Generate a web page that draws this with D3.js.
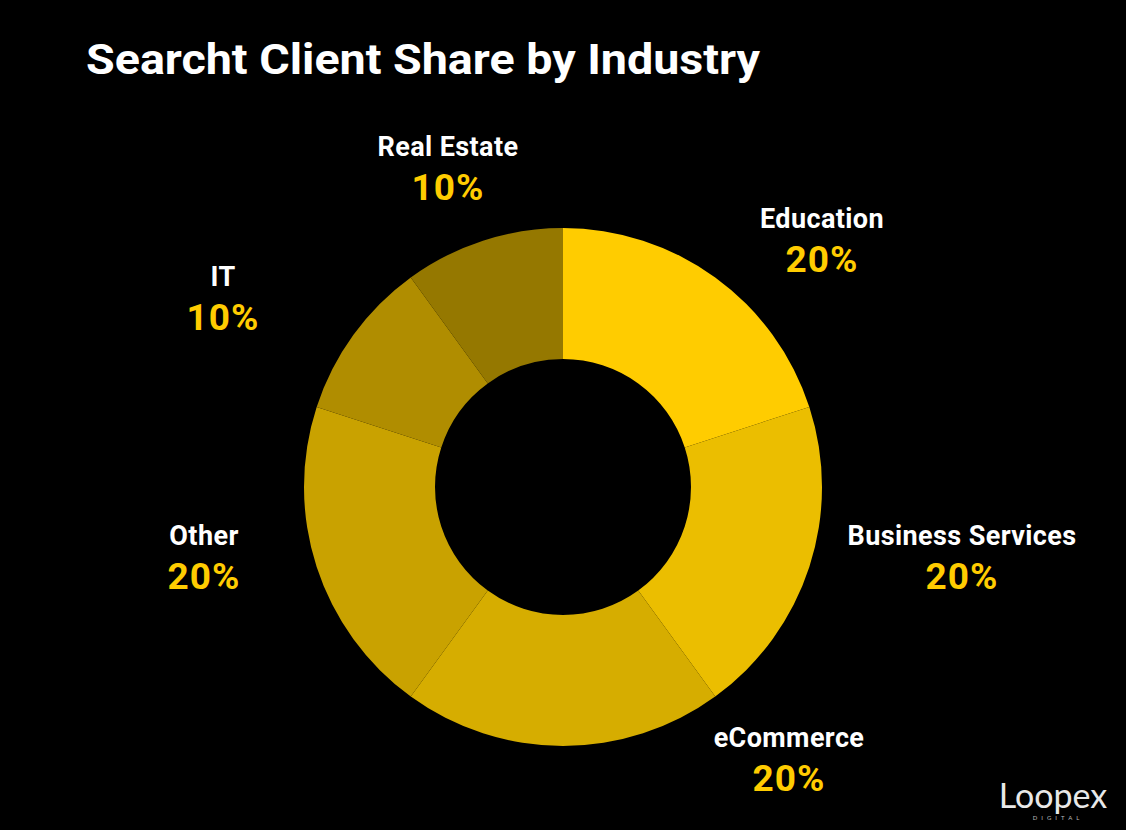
<!DOCTYPE html><html><head><meta charset="utf-8">
<script src="https://cdn.jsdelivr.net/npm/d3@7"></script>
<style>body{margin:0;background:#000}</style></head><body>
<svg id="c" width="1126" height="830"></svg>
<script>
const categories=["Education","Business Services","eCommerce","Other","IT","Real Estate"];
const values=[20,20,20,20,10,10];
const colors=["#FFCC00","#EBBE00","#D6AD00","#C9A200","#B08D00","#957800"];
const labelPos=[[822,228],[962,545],[789,747],[204,545],[223,286],[448,156]];
const svg=d3.select("#c");
svg.append("rect").attr("width",1126).attr("height",830).attr("fill","#000");
svg.append("text").attr("x",86).attr("y",74).attr("fill","#fff").attr("font-family","Roboto, sans-serif").attr("font-weight",700).attr("font-size",42).attr("textLength",674).attr("lengthAdjust","spacingAndGlyphs").text("Searcht Client Share by Industry");
const g=svg.append("g").attr("transform","translate(563,487)");
const pie=d3.pie().sort(null).value(d=>d)(values);
const arc=d3.arc().innerRadius(128).outerRadius(259);
g.selectAll("path").data(pie).join("path").attr("d",arc).attr("fill",(d,i)=>colors[i]);
categories.forEach((c,i)=>{
 const [x,y]=labelPos[i];
 svg.append("text").attr("x",x).attr("y",y).attr("text-anchor","middle").attr("fill","#fff").attr("font-family","Roboto, sans-serif").attr("font-weight",700).attr("font-size",27).attr("letter-spacing",0.4).text(c);
 svg.append("text").attr("x",x).attr("y",y+44).attr("text-anchor","middle").attr("fill","#FFCC00").attr("font-family","Roboto, sans-serif").attr("font-weight",700).attr("font-size",37).attr("letter-spacing",1).text(values[i]+"%");
});
svg.append("text").attr("x",1053).attr("y",808).attr("text-anchor","middle").attr("fill","#e8e8e8").attr("font-family","Lato, sans-serif").attr("font-size",34).text("Loopex");
svg.append("text").attr("x",1058).attr("y",820).attr("text-anchor","middle").attr("fill","#bbb").attr("font-family","Lato, sans-serif").attr("font-size",6).attr("letter-spacing",4).text("DIGITAL");
</script></body></html>
